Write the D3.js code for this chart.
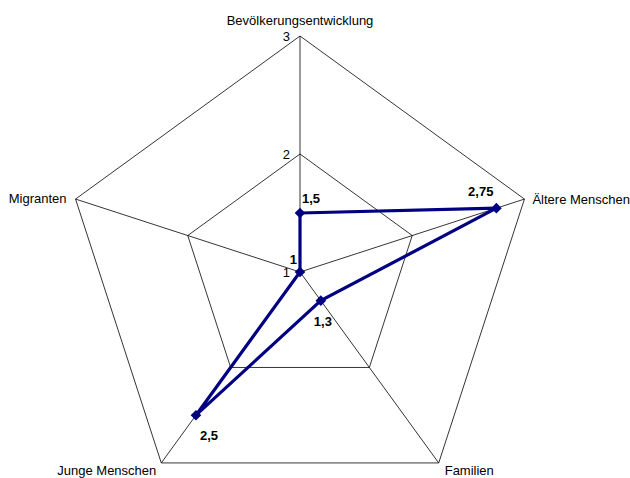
<!DOCTYPE html>
<html>
<head>
<meta charset="utf-8">
<script src="https://cdn.jsdelivr.net/npm/d3@7"></script>
<style>
  body { margin: 0; background: #fff; }
  text { font-family: "Liberation Sans", Arial, sans-serif; font-size: 13px; }
</style>
</head>
<body>
<script>
// chart data
const axes = ["Bevölkerungsentwicklung", "Ältere Menschen", "Familien", "Junge Menschen", "Migranten"];
const values = [1.5, 2.75, 1.3, 2.5, 1];
const valueLabels = ["1,5", "2,75", "1,3", "2,5", "1"];
const ticks = [1, 2, 3];

const width = 630, height = 478;
const cx = 300, cy = 272, radius = 236;

const svg = d3.select("body").append("svg")
    .attr("width", width)
    .attr("height", height);

const r = d3.scaleLinear().domain([1, 3]).range([0, radius]);
const angle = d3.scaleLinear().domain([0, axes.length]).range([0, 2 * Math.PI]);

function pt(i, v) {
    const a = angle(i);
    return [cx + r(v) * Math.sin(a), cy - r(v) * Math.cos(a)];
}

// grid pentagons
ticks.slice(1).forEach(t => {
    svg.append("polygon")
        .attr("points", axes.map((d, i) => pt(i, t).join(",")).join(" "))
        .attr("fill", "none")
        .attr("stroke", "#000")
        .attr("stroke-width", 0.8);
});

// spokes
axes.forEach((d, i) => {
    const p = pt(i, 3);
    svg.append("line")
        .attr("x1", cx).attr("y1", cy)
        .attr("x2", p[0]).attr("y2", p[1])
        .attr("stroke", "#000")
        .attr("stroke-width", 0.8);
});

// tick labels
ticks.forEach(t => {
    svg.append("text")
        .attr("x", cx - 10)
        .attr("y", cy - r(t) + 5)
        .attr("text-anchor", "end")
        .text(t);
});

// axis labels
const labelPos = [
    { dx: 0, dy: -11, anchor: "middle" },
    { dx: 8, dy: 5, anchor: "start" },
    { dx: 6, dy: 12, anchor: "start" },
    { dx: -5, dy: 12, anchor: "end" },
    { dx: -9, dy: 4, anchor: "end" }
];
axes.forEach((d, i) => {
    const p = pt(i, 3);
    svg.append("text")
        .attr("x", p[0] + labelPos[i].dx)
        .attr("y", p[1] + labelPos[i].dy)
        .attr("text-anchor", labelPos[i].anchor)
        .text(d);
});

// series line
const line = d3.line().curve(d3.curveLinearClosed);
svg.append("path")
    .attr("d", line(values.map((v, i) => pt(i, v))))
    .attr("fill", "none")
    .attr("stroke", "#000080")
    .attr("stroke-width", 3.2)
    .attr("stroke-linejoin", "miter");

// diamond markers
svg.selectAll(".marker")
    .data(values)
    .enter()
    .append("path")
    .attr("class", "marker")
    .attr("d", d3.symbol().type(d3.symbolDiamond2).size(72))
    .attr("transform", (v, i) => `translate(${pt(i, v).join(",")})`)
    .attr("fill", "#000080");

// value labels
const valPos = [
    { dx: 2, dy: -10, anchor: "start" },
    { dx: -3, dy: -12, anchor: "end" },
    { dx: -7, dy: 25, anchor: "start" },
    { dx: 4, dy: 25, anchor: "start" },
    { dx: -3, dy: -8, anchor: "end" }
];
values.forEach((v, i) => {
    const p = pt(i, v);
    svg.append("text")
        .attr("x", p[0] + valPos[i].dx)
        .attr("y", p[1] + valPos[i].dy)
        .attr("text-anchor", valPos[i].anchor)
        .attr("font-weight", "bold")
        .attr("font-size", "12px")
        .text(valueLabels[i]);
});
</script>
</body>
</html>
